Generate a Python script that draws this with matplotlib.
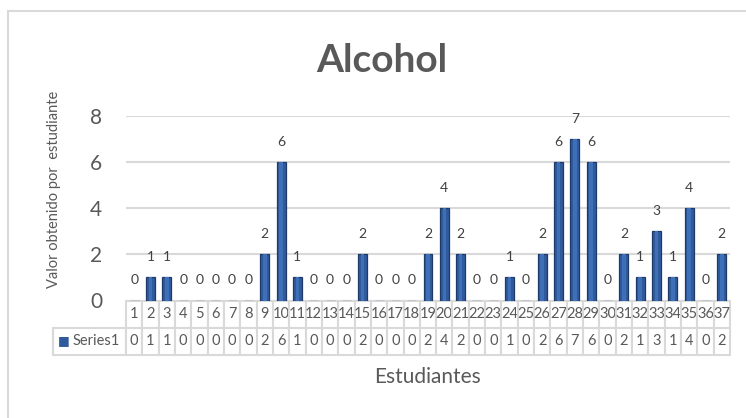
import matplotlib
matplotlib.use('Agg')
import matplotlib.pyplot as plt
from matplotlib.table import Table
from matplotlib.patches import Rectangle
import numpy as np

categories = [str(i) for i in range(1, 38)]
values = [0, 1, 1, 0, 0, 0, 0, 0, 2, 6, 1, 0, 0, 0, 2, 0, 0, 0, 2, 4,
          2, 0, 0, 1, 0, 2, 6, 7, 6, 0, 2, 1, 3, 1, 4, 0, 2]
series_name = "Series1"
y_ticks = [0, 2, 4, 6, 8]
title = "Alcohol"
xlabel = "Estudiantes"
ylabel = "Valor obtenido por  estudiante"

W, H = 746, 418
plt.rcParams['font.family'] = ['Lato', 'DejaVu Sans']
TEXT = '#595959'
GRID = '#d9d9d9'
BAR = '#2f5b9c'
BAR_EDGE = '#1d3a68'
BAR_HI = '#3f6fb6'

fig = plt.figure(figsize=(W / 100, H / 100), dpi=100)

# outer chart border
fig.patches.append(Rectangle((8 / W, -0.5), 2, (H - 11) / H + 0.5,
                             transform=fig.transFigure, fill=False,
                             edgecolor=GRID, linewidth=1.5))

ax_l, ax_r, ax_t, ax_b = 126, 730, 116, 300.5
ax = fig.add_axes([ax_l / W, (H - ax_b) / H, (ax_r - ax_l) / W, (ax_b - ax_t) / H])
x = np.arange(len(values))
ax.bar(x, values, width=0.55, color=BAR, edgecolor=BAR_EDGE, linewidth=0.9, zorder=3)
ax.bar(x, values, width=0.22, color=BAR_HI, linewidth=0, zorder=4)
ax.set_xlim(-0.5, len(values) - 0.5)
ax.set_ylim(0, 8)
ax.set_yticks(y_ticks)
ax.yaxis.grid(True, color=GRID, linewidth=1.5, zorder=0)
ax.set_axisbelow(True)
for s in ax.spines.values():
    s.set_visible(False)
ax.tick_params(axis='y', length=0, pad=17, labelsize=15, labelcolor=TEXT)
ax.tick_params(axis='x', bottom=False, labelbottom=False)

for xi, v in zip(x, values):
    ax.annotate(str(v), (xi, v), xytext=(0, 14.4), textcoords='offset points',
                ha='center', va='center', fontsize=10, color='#404040',
                annotation_clip=False)

# data table
ax_h_px = ax_b - ax_t
ax_w_px = ax_r - ax_l
row_h = 27 / ax_h_px
ncol = len(categories)
col_w = 1.0 / ncol
label_w = (ax_l - 53) / ax_w_px
tab = Table(ax, bbox=[0, -2 * row_h, 1, 2 * row_h])
tab.auto_set_font_size(False)
for j, c in enumerate(categories):
    tab.add_cell(0, j, width=col_w, height=row_h, text=c, loc='center',
                 edgecolor=GRID, facecolor='white')
    tab.add_cell(1, j, width=col_w, height=row_h, text=str(values[j]), loc='center',
                 edgecolor=GRID, facecolor='white')
tab.add_cell(1, -1, width=label_w, height=row_h, text=series_name, loc='right',
             edgecolor=GRID, facecolor='white')
for cell in tab.get_celld().values():
    cell.set_linewidth(1.5)
    cell.PAD = 0.08
    t = cell.get_text()
    t.set_color(TEXT)
    t.set_fontsize(10.5)
tab.set_clip_on(False)
ax.add_table(tab)

# legend key in table
ax.text((64 - ax_l) / ax_w_px, -1.5 * row_h, '\u25A0', transform=ax.transAxes,
        ha='center', va='center', fontsize=9, color=BAR, family='DejaVu Sans')

fig.text(382 / W, (H - 72) / H, title, ha='center', va='baseline', fontsize=28,
         fontweight='bold', color=TEXT)
fig.text(427 / W, (H - 383) / H, xlabel, ha='center', va='baseline', fontsize=15,
         color=TEXT)
fig.text(54 / W, (H - 189) / H, ylabel, rotation=90, ha='center', va='center',
         fontsize=10.5, color=TEXT)

fig.savefig('out.png', dpi=100, facecolor='white')
